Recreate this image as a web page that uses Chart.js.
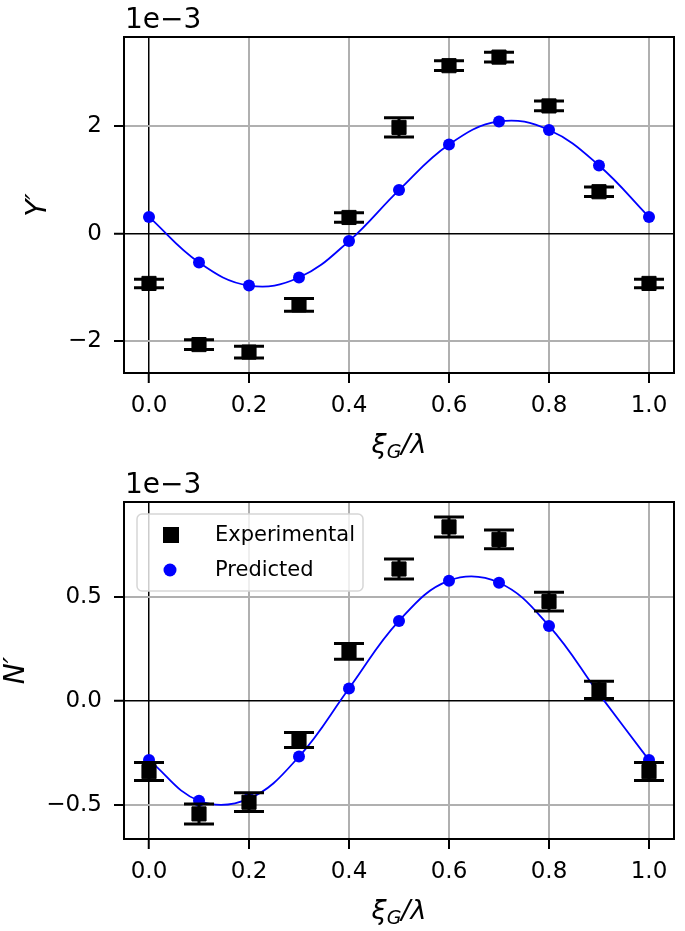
<!DOCTYPE html>
<html>
<head>
<meta charset="utf-8">
<title>Y′ and N′ against ξG/λ</title>
<script src="https://cdn.jsdelivr.net/npm/chart.js@4.4.1/dist/chart.umd.min.js"></script>
<style>
  html, body { margin: 0; padding: 0; background: #fff; }
  .panel { position: relative; width: 685px; }
  #topPanel { height: 465px; }
  #bottomPanel { height: 466px; }
</style>
</head>
<body>
<div class="panel" id="topPanel"><canvas id="yChart"></canvas></div>
<div class="panel" id="bottomPanel"><canvas id="nChart"></canvas></div>
<script>
'use strict';

// ====================== DATA ======================//
let positions = [0.0, 0.1, 0.2, 0.3, 0.4, 0.5, 0.6, 0.7, 0.8, 0.9, 1.0];
let xTicks = [0, 0.2, 0.4, 0.6, 0.8, 1.0];
let xTickLabels = ['0.0', '0.2', '0.4', '0.6', '0.8', '1.0'];

// Y' values, in units of 1e-3
let yExperimental = [-0.93, -2.07, -2.21, -1.33, 0.30, 1.98, 3.13, 3.29, 2.38, 0.78, -0.93];
let yErrors = [0.08, 0.09, 0.11, 0.12, 0.09, 0.18, 0.09, 0.09, 0.09, 0.09, 0.08];
let yPredicted = [0.31, -0.54, -0.97, -0.82, -0.14, 0.81, 1.66, 2.09, 1.93, 1.27, 0.31];
let yTicks = [-2, 0, 2];
let yTickLabels = ['\u22122', '0', '2'];

// N' values, in units of 1e-3
let nExperimental = [-0.338, -0.541, -0.485, -0.187, 0.239, 0.634, 0.836, 0.776, 0.478, 0.054, -0.338];
let nErrors = [0.043, 0.048, 0.045, 0.036, 0.038, 0.048, 0.048, 0.045, 0.045, 0.041, 0.043];
let nPredicted = [-0.283, -0.478, -0.468, -0.266, 0.061, 0.385, 0.578, 0.568, 0.361, 0.035, -0.283];
let nTicks = [-0.5, 0, 0.5];
let nTickLabels = ['\u22120.5', '0.0', '0.5'];

let fontFamily = 'DejaVu Sans';
Chart.defaults.font.family = fontFamily;
Chart.defaults.color = '#000';

// ====================== PLUGINS ======================//
// vertical error bars with caps for any dataset that carries an errors array
let errorBarPlugin = {
  id: 'errorBars',
  afterDatasetsDraw(chart) {
    let ctx = chart.ctx;
    let xScale = chart.scales.x;
    let yScale = chart.scales.y;
    chart.data.datasets.forEach(ds => {
      if (!ds.errors) {
        return;
      }
      ctx.save();
      ctx.strokeStyle = '#000';
      ctx.lineWidth = 3;
      ds.data.forEach((pt, i) => {
        let px = xScale.getPixelForValue(pt.x);
        let top = yScale.getPixelForValue(pt.y + ds.errors[i]);
        let bottom = yScale.getPixelForValue(pt.y - ds.errors[i]);
        ctx.beginPath();
        ctx.moveTo(px, top);
        ctx.lineTo(px, bottom);
        ctx.moveTo(px - 15, top);
        ctx.lineTo(px + 15, top);
        ctx.moveTo(px - 15, bottom);
        ctx.lineTo(px + 15, bottom);
        ctx.stroke();
      });
      ctx.restore();
    });
  }
};

// frame, offset text, x label with subscript, legend inside the plot
let decorPlugin = {
  id: 'decor',
  afterDraw(chart, args, opts) {
    let ctx = chart.ctx;
    let area = chart.chartArea;
    ctx.save();

    // frame round the plot
    ctx.strokeStyle = '#000';
    ctx.lineWidth = 2;
    ctx.strokeRect(area.left, area.top, area.right - area.left, area.bottom - area.top);

    // offset text
    ctx.fillStyle = '#000';
    ctx.textBaseline = 'alphabetic';
    ctx.textAlign = 'left';
    ctx.font = '28px "' + fontFamily + '"';
    ctx.fillText(opts.offsetText, area.left + 1, area.top - 9);

    // x label: xi with subscript G over lambda
    let parts = [
      { text: '\u03BE', size: 27, dy: 0 },
      { text: 'G', size: 19, dy: 5 },
      { text: '/\u03BB', size: 27, dy: 0 }
    ];
    let total = 0;
    parts.forEach(p => {
      ctx.font = 'italic ' + p.size + 'px "' + fontFamily + '"';
      p.width = ctx.measureText(p.text).width;
      total += p.width;
    });
    let x = (area.left + area.right) / 2 - total / 2;
    let baseY = area.bottom + 80;
    parts.forEach(p => {
      ctx.font = 'italic ' + p.size + 'px "' + fontFamily + '"';
      ctx.fillText(p.text, x, baseY + p.dy);
      x += p.width;
    });

    // legend box
    if (opts.legend) {
      let left = area.left + 13;
      let top = area.top + 12;
      let w = 226;
      let h = 77;
      ctx.beginPath();
      ctx.roundRect(left, top, w, h, 5);
      ctx.fillStyle = 'rgba(255,255,255,0.8)';
      ctx.fill();
      ctx.strokeStyle = '#d6d6d6';
      ctx.lineWidth = 1.5;
      ctx.stroke();
      ctx.textBaseline = 'middle';
      ctx.font = '21px "' + fontFamily + '"';
      chart.data.datasets.forEach((ds, i) => {
        let cy = top + 21 + i * 35;
        ctx.fillStyle = ds.backgroundColor;
        if (ds.pointStyle === 'rect') {
          ctx.fillRect(left + 26, cy - 8, 16, 16);
        } else {
          ctx.beginPath();
          ctx.arc(left + 33, cy, 6.5, 0, Math.PI * 2);
          ctx.fill();
        }
        ctx.fillStyle = '#000';
        ctx.fillText(ds.label, left + 78, cy + 1);
      });
    }
    ctx.restore();
  }
};

// ====================== CHART BUILDER ======================//
function toPoints(values) {
  return positions.map((x, i) => ({ x: x, y: values[i] }));
}

function zeroColor(ctx) {
  return ctx.tick && ctx.tick.value === 0 ? '#000' : '#b0b0b0';
}

function zeroWidth(ctx) {
  return ctx.tick && ctx.tick.value === 0 ? 1.5 : 2;
}

function makeChart(canvasId, cfg) {
  let chartObject = {
    type: 'scatter',
    data: {
      datasets: [
        {
          label: 'Experimental',
          data: toPoints(cfg.experimental),
          errors: cfg.errors,
          showLine: false,
          pointStyle: 'rect',
          pointRadius: 10,
          backgroundColor: '#000',
          borderColor: '#000',
          borderWidth: 1
        },
        {
          label: 'Predicted',
          data: toPoints(cfg.predicted),
          showLine: true,
          tension: 0.4,
          borderColor: '#0000ff',
          backgroundColor: '#0000ff',
          borderWidth: 1.8,
          pointStyle: 'circle',
          pointRadius: 6,
          pointBorderWidth: 0
        }
      ]
    },
    options: {
      responsive: true,
      maintainAspectRatio: false,
      devicePixelRatio: 1,
      animation: false,
      events: [],
      layout: { padding: { top: 37, right: 8, left: 0, bottom: 0 } },
      scales: {
        x: {
          type: 'linear',
          min: -0.05,
          max: 1.05,
          afterBuildTicks: axis => { axis.ticks = xTicks.map(v => ({ value: v })); },
          afterFit: scale => { scale.height = 92; },
          ticks: {
            callback: (value, index) => xTickLabels[index],
            font: { size: 23 },
            color: '#000',
            padding: 9,
            maxRotation: 0,
            autoSkip: false
          },
          grid: { color: zeroColor, lineWidth: zeroWidth, tickColor: '#000', tickWidth: 2, tickLength: 10 },
          border: { display: false }
        },
        y: {
          type: 'linear',
          min: cfg.yMin,
          max: cfg.yMax,
          afterBuildTicks: axis => { axis.ticks = cfg.ticks.map(v => ({ value: v })); },
          afterFit: scale => { scale.width = 124; },
          ticks: {
            callback: (value, index) => cfg.tickLabels[index],
            font: { size: 23 },
            color: '#000',
            padding: 12,
            autoSkip: false
          },
          grid: { color: zeroColor, lineWidth: zeroWidth, tickColor: '#000', tickWidth: 2, tickLength: 10 },
          border: { display: false },
          title: {
            display: true,
            text: cfg.yLabel,
            font: { size: 28, style: 'italic' },
            color: '#000',
            padding: { top: cfg.titlePad, bottom: 0 }
          }
        }
      },
      plugins: {
        legend: { display: false },
        tooltip: { enabled: false },
        decor: { offsetText: '1e\u22123', legend: cfg.legend }
      }
    },
    plugins: [errorBarPlugin, decorPlugin]
  };
  let ctx = document.getElementById(canvasId).getContext('2d');
  return new Chart(ctx, chartObject);
}

// ====================== RENDER ======================//
makeChart('yChart', {
  experimental: yExperimental,
  errors: yErrors,
  predicted: yPredicted,
  ticks: yTicks,
  tickLabels: yTickLabels,
  yMin: -2.6,
  yMax: 3.665,
  yLabel: 'Y\u2032',
  titlePad: 22,
  legend: false
});

makeChart('nChart', {
  experimental: nExperimental,
  errors: nErrors,
  predicted: nPredicted,
  ticks: nTicks,
  tickLabels: nTickLabels,
  yMin: -0.6615,
  yMax: 0.9555,
  yLabel: 'N\u2032',
  titlePad: 0,
  legend: true
});
</script>
</body>
</html>
